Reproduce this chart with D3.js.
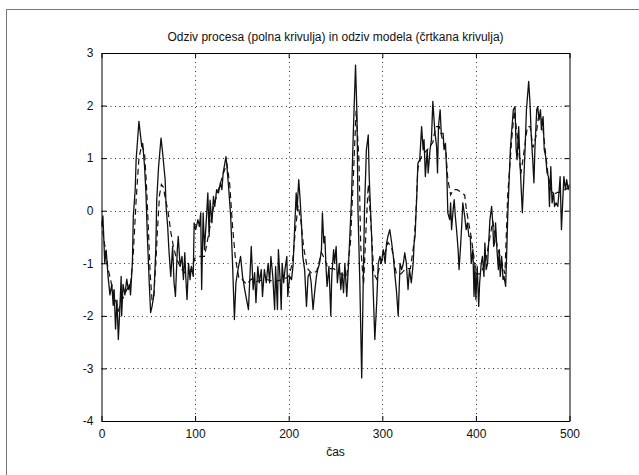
<!DOCTYPE html>
<html><head><meta charset="utf-8">
<script src="https://cdn.jsdelivr.net/npm/d3@7"></script>
<style>
html,body{margin:0;padding:0;background:#fff;}
svg{display:block;font-family:"Liberation Sans",Arial,Helvetica,sans-serif;}
</style></head>
<body>
<svg id="chart" width="639" height="475"></svg>
<script>
const titleText = "Odziv procesa (polna krivulja) in odziv modela (črtkana krivulja)";
const xLabelText = "čas";
const xTicks = [0, 100, 200, 300, 400, 500];
const yTicks = [-4, -3, -2, -1, 0, 1, 2, 3];

// process response (solid): time, value
const procT = [0,1.5,3.5,5,7,9,11,12.5,13.5,15,16.5,18,19.5,21,21.5,23,25,27,28.6,30,31,33,34,36,37,40,43,44,46,47.5,49,51,52.5,54,56,58,59,61,63.6,65,66,68,69,70.7,72,74,76,77.5,79,81,82,84,86,87.5,89,90,91.4,93,94.6,96,98,99,100.7,103,104.6,106,107,108.6,110,112,113.6,115,116,118,119.6,121,123,125,127,128.6,130,133,134,136,138,140,142,143.6,146,148.6,150.7,153,155,157,160,162,163.6,165,167,168.6,170.7,172,174,176,178,179.6,181,183,185,186,188,189,191,192,193,194.6,196,198,199,201,203,204.6,206,208,209,210.7,212,213.6,215,217,219,220.7,222.5,224,226,228,229.6,231,233,235,236,237.5,238.6,240,241,243,245,246,248,249,250.7,252,254,255.7,257,258.6,260,262,263.6,265,267,269,271.4,273,274,276,278,279.6,281,283,285,286,288.6,290,292,294,295.7,297.5,299,301,303,304.6,306,308,310,311.8,313.6,315,317,319,320.7,322.5,324,325.7,327.5,329,331,333,334,335,336.8,338,340,342,343.6,344.6,346,348,349,351,352.5,354,356,358,359,360,361.8,363,365,366,367.5,369,370,372,373,374,375.7,376.8,378,379.6,381,382,383.6,385,386,388,389.6,391,392.5,394,395,396.8,398,399,400,401.4,403,404,405.7,407,408.6,409.6,411,412.5,414,415,416.8,418,419,420,421,422.5,424,425,426,427.5,429,430,431.8,433,434,435.4,436.8,438,440,441.8,443,444,445.7,447,448.6,449.6,451,452.5,454,456.4,458,459,460.7,462,463,465,466,467.5,469,470,471.8,473,474.6,476,477.5,478.6,480,481.4,483,484,485.7,487.5,489,490,491.4,493,494,495.7,497,498.6,500];
const procV = [-0.3,-0.1,-1.0,-0.75,-1.25,-1.6,-1.4,-1.8,-1.5,-2.25,-1.7,-2.45,-1.9,-1.25,-2.0,-1.4,-1.6,-1.3,-1.5,-1.4,-1.6,-1.0,-0.1,0.4,0.97,1.7,1.22,1.28,0.84,0.33,-0.49,-1.37,-1.94,-1.82,-1.6,-0.74,0.2,0.84,1.38,1.16,0.97,0.59,0.08,-0.3,-0.74,-1.25,-0.68,-1.37,-1.63,-0.74,-0.49,-1.06,-0.87,-1.31,-0.8,-1.25,-1.69,-1.0,-1.31,-1.06,-1.25,-0.23,-0.36,-0.17,-0.3,-0.04,-1.5,-0.04,-0.74,-0.17,0.34,-0.49,0.2,-0.23,0.27,0.08,0.4,0.34,0.53,0.4,0.72,1.03,0.84,0.4,-0.1,-1.0,-2.07,-1.37,-1.1,-0.87,-1.25,-1.5,-1.69,-1.88,-0.68,-1.5,-1.18,-1.75,-1.06,-1.37,-1.12,-1.63,-1.12,-1.37,-1.0,-1.37,-0.87,-1.25,-1.88,-1.06,-1.88,-0.74,-1.37,-1.88,-1.0,-1.37,-1.12,-0.87,-1.63,-1.25,-1.31,-1.06,-0.49,0.34,0.02,0.59,0.27,-0.23,-0.87,-1.12,-1.82,-1.25,-1.18,-1.37,-1.88,-1.5,-1.25,-1.12,-1.0,-0.74,-0.04,-0.61,-0.49,-1.12,-1.44,-1.06,-2.0,-1.25,-0.74,-1.0,-0.68,-1.37,-1.0,-1.5,-1.18,-1.56,-1.0,-1.63,-1.12,-0.61,0.2,1.47,2.77,1.79,0.02,-1.37,-3.18,-1.37,0.02,1.16,1.44,0.65,-0.49,-1.37,-2.45,-1.75,-1.0,-0.87,-1.0,-0.74,-1.0,-0.61,-0.49,-0.36,-0.61,-0.87,-1.25,-1.5,-2.0,-1.0,-1.12,-1.0,-0.8,-1.0,-1.5,-1.12,-1.37,-1.0,-0.61,-0.49,0.27,0.9,0.97,1.6,1.16,1.35,0.65,1.16,0.72,1.16,1.35,2.08,1.54,1.22,0.72,1.6,1.92,1.47,1.47,1.16,1.28,0.65,-0.04,-0.17,0.15,-0.36,0.02,0.21,-0.1,-0.42,-0.74,-1.12,-0.68,-0.23,0.15,-0.1,-0.36,-0.23,-0.49,-0.49,-1.0,-0.74,-1.63,-1.06,-1.69,-1.06,-1.82,-1.37,-1.0,-0.87,-1.25,-0.61,-1.12,-1.0,-0.49,-0.17,0.08,-0.23,-0.68,-0.61,-0.23,-0.74,-1.12,-0.74,-1.25,-0.87,-1.31,-1.25,-1.44,-0.74,-0.1,0.53,1.16,1.47,1.92,1.98,1.16,0.97,1.6,0.97,0.34,-0.04,0.53,1.16,1.92,2.46,1.98,1.47,0.97,0.53,1.16,1.92,1.98,1.73,1.92,1.54,1.79,1.16,1.03,0.72,0.65,0.08,0.84,0.15,0.34,0.08,0.15,0.08,0.4,0.65,-0.36,0.27,0.65,0.4,0.59,0.4,0.5];

// model response (dashed): time, value
const modelT = [0,3,7,12,18,22,27,31,34,37,40,43,46,48,50,52,54,56,58,60,62,64,66,68,71,74,77,80,85,90,95,100,105,110,115,120,125,130,134,137,140,143,147,150,155,160,165,175,185,195,200,204,207,210,213,216,220,225,230,235,238,242,248,255,262,266,269,272,275,277,280,283,285,288,291,294,298,302,306,310,315,320,325,330,334,336,338,341,345,350,354,357,361,365,368,370,373,376,380,384,388,390,393,395,398,400,405,410,415,418,423,428,431,434,436,438,441,445,448,452,455,458,461,464,467,470,472,475,477,480,483,487,490,495,500];
const modelV = [-0.2,-0.6,-1.1,-1.5,-1.9,-1.7,-1.5,-1.4,-0.8,0.2,1.0,1.25,1.1,0.5,-0.3,-1.2,-1.7,-1.6,-1.0,-0.3,0.3,0.5,0.45,0.25,0.0,-0.4,-0.7,-0.9,-1.1,-1.2,-1.15,-0.9,-0.87,-0.87,-0.4,0.1,0.4,0.7,0.9,0.5,-0.3,-0.9,-1.3,-1.3,-1.4,-1.3,-1.35,-1.3,-1.35,-1.3,-1.25,-1.0,-0.4,0.1,-0.2,-0.7,-1.1,-1.2,-1.15,-0.8,-0.9,-1.1,-1.1,-1.2,-1.25,-0.6,0.6,1.9,1.0,-0.7,-1.4,-0.2,0.5,-0.3,-1.2,-1.3,-1.0,-0.85,-0.6,-0.7,-1.2,-1.2,-1.1,-1.1,-0.6,0.0,0.8,1.0,1.1,1.2,1.3,1.6,1.6,1.3,1.1,0.6,0.3,0.4,0.4,0.35,0.3,0.0,-0.3,-0.5,-0.9,-1.2,-1.2,-1.0,-0.5,-0.2,-0.7,-1.0,-1.2,0.3,0.8,1.3,1.9,1.3,0.7,1.2,1.6,1.6,1.2,1.4,1.8,1.8,1.5,1.0,0.7,0.4,0.3,0.35,0.35,0.4,0.45];

const svg = d3.select("#chart");
const plot = {left: 101.5, right: 569.5, top: 53, bottom: 421};

// outer figure frame
svg.append("rect").attr("x", 6.5).attr("y", 9.5).attr("width", 700).attr("height", 600)
  .attr("fill", "none").attr("stroke", "#777").attr("stroke-width", 1);

const x = d3.scaleLinear().domain([0, 500]).range([plot.left, plot.right]);
const y = d3.scaleLinear().domain([-4, 3]).range([plot.bottom, plot.top]);

const g = svg.append("g");

// grid
g.append("g").selectAll("line").data(xTicks.slice(1, -1)).join("line")
  .attr("x1", d => Math.round(x(d)) + 0.5).attr("x2", d => Math.round(x(d)) + 0.5)
  .attr("y1", plot.top).attr("y2", plot.bottom)
  .attr("stroke", "#000").attr("stroke-width", 1).attr("stroke-dasharray", "1,3.5").attr("opacity", 0.8);
g.append("g").selectAll("line").data(yTicks.slice(1, -1)).join("line")
  .attr("y1", d => Math.round(y(d)) + 0.5).attr("y2", d => Math.round(y(d)) + 0.5)
  .attr("x1", plot.left).attr("x2", plot.right)
  .attr("stroke", "#000").attr("stroke-width", 1).attr("stroke-dasharray", "1,3.5").attr("opacity", 0.8);

// clip
svg.append("clipPath").attr("id", "clip").append("rect")
  .attr("x", plot.left).attr("y", plot.top)
  .attr("width", plot.right - plot.left).attr("height", plot.bottom - plot.top);

const line = d3.line().x(d => x(d[0])).y(d => y(d[1]));
const modelData = modelT.map((t, i) => [t, modelV[i]]);
const procData = procT.map((t, i) => [t, procV[i]]);

g.append("path").datum(modelData).attr("d", line).attr("clip-path", "url(#clip)")
  .attr("fill", "none").attr("stroke", "#111").attr("stroke-width", 1.2)
  .attr("stroke-dasharray", "6,4");
g.append("path").datum(procData).attr("d", line).attr("clip-path", "url(#clip)")
  .attr("fill", "none").attr("stroke", "#111").attr("stroke-width", 1.3)
  .attr("stroke-linejoin", "round");

// axes (MATLAB style: ticks inward on all sides)
const tl = 5;
const fmt = d => String(d);
const axB = d3.axisBottom(x).tickValues(xTicks).tickSizeInner(-tl).tickSizeOuter(0).tickPadding(8).tickFormat(fmt);
const axT = d3.axisTop(x).tickValues(xTicks).tickSizeInner(-tl).tickSizeOuter(0).tickFormat("");
const axL = d3.axisLeft(y).tickValues(yTicks).tickSizeInner(-tl).tickSizeOuter(0).tickPadding(8).tickFormat(fmt);
const axR = d3.axisRight(y).tickValues(yTicks).tickSizeInner(-tl).tickSizeOuter(0).tickFormat("");

function style(sel) {
  sel.selectAll("path").attr("stroke", "#000");
  sel.selectAll("line").attr("stroke", "#000");
  sel.selectAll("text").attr("fill", "#111").style("font-size", "12px")
    .style("font-family", "'Liberation Sans', Arial, Helvetica, sans-serif");
}
svg.append("g").attr("transform", `translate(0,${plot.bottom})`).call(axB).call(style);
svg.append("g").attr("transform", `translate(0,${plot.top})`).call(axT).call(style);
svg.append("g").attr("transform", `translate(${plot.left},0)`).call(axL).call(style);
svg.append("g").attr("transform", `translate(${plot.right},0)`).call(axR).call(style);

// title and label
svg.append("text").attr("x", (plot.left + plot.right) / 2).attr("y", 41)
  .attr("text-anchor", "middle").attr("fill", "#111").style("font-size", "12px")
  .text(titleText);
svg.append("text").attr("x", (plot.left + plot.right) / 2).attr("y", 456)
  .attr("text-anchor", "middle").attr("fill", "#111").style("font-size", "12px")
  .text(xLabelText);
</script>
</body></html>
